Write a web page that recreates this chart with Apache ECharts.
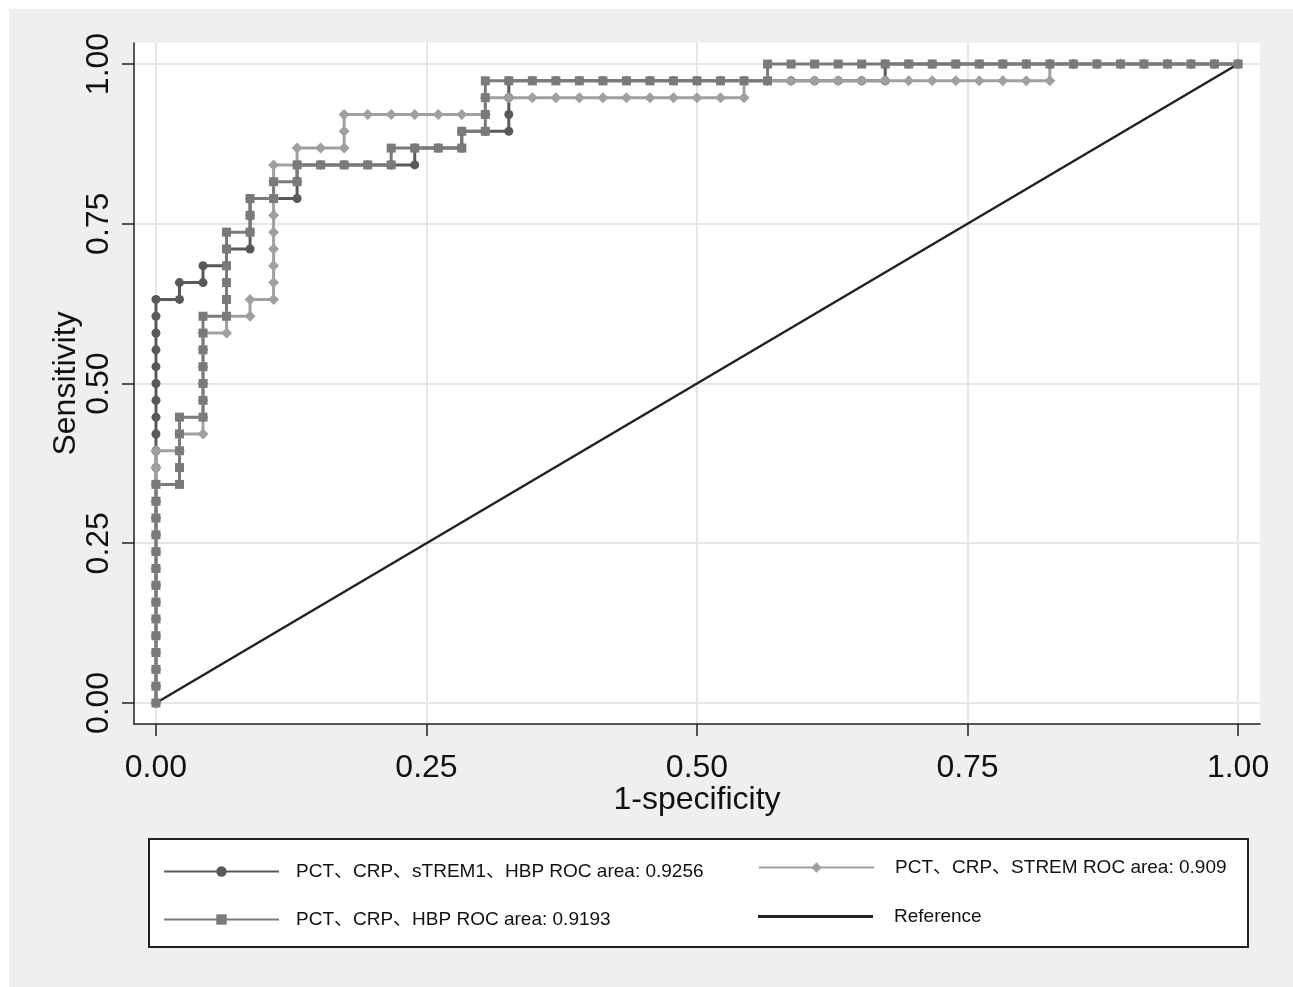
<!DOCTYPE html>
<html>
<head>
<meta charset="utf-8">
<script src="https://cdn.jsdelivr.net/npm/echarts@6/dist/echarts.min.js"></script>
<style>
  html, body { margin: 0; padding: 0; background: #fff; }
  #chart { position: absolute; left: 9px; top: 9px; width: 1284px; height: 978px; }
</style>
</head>
<body>
<div id="chart"></div>
<script>
// counts: 46 negatives (x = fp/46), 38 positives (y = tp/38)
var nNeg = 46, nPos = 38;

var tickValues = [0, 0.25, 0.5, 0.75, 1];

// PCT、CRP、sTREM1、HBP
var fpA = [0,0,0,0,0,0,0,0,0,0,0,0,0,0,0,0,0,0,0,0,0,0,0,0,0,
  1,1,2,2,3,3,4,4,4,4,5,6,6,6,7,8,9,10,11,11,12,13,13,14,15,15,15,15,
  16,17,18,19,20,21,22,23,24,25,26,27,28,29,30,31,31,
  32,33,34,35,36,37,38,39,40,41,42,43,44,45,46];
var tpA = [0,1,2,3,4,5,6,7,8,9,10,11,12,13,14,15,16,17,18,19,20,21,22,23,24,
  24,25,25,26,26,27,27,28,29,30,30,30,31,32,32,32,32,32,32,33,33,33,34,34,34,35,36,37,
  37,37,37,37,37,37,37,37,37,37,37,37,37,37,37,37,38,
  38,38,38,38,38,38,38,38,38,38,38,38,38,38,38];

// PCT、CRP、STREM
var fpC = [0,0,0,0,0,0,0,0,0,0,0,0,0,0,0,0,
  1,1,2,2,2,2,2,2,2,3,3,4,4,5,5,5,5,5,5,5,5,5,6,6,7,8,8,8,9,10,11,12,13,14,14,
  15,16,17,18,19,20,21,22,23,24,25,25,
  26,27,28,29,30,31,32,33,34,35,36,37,38,38,
  39,40,41,42,43,44,45,46];
var tpC = [0,1,2,3,4,5,6,7,8,9,10,11,12,13,14,15,
  15,16,16,17,18,19,20,21,22,22,23,23,24,24,25,26,27,28,29,30,31,32,32,33,33,33,34,35,35,35,35,35,35,35,36,
  36,36,36,36,36,36,36,36,36,36,36,37,
  37,37,37,37,37,37,37,37,37,37,37,37,37,38,
  38,38,38,38,38,38,38,38];

// PCT、CRP、HBP
var fpB = [0,0,0,0,0,0,0,0,0,0,0,0,0,0,
  1,1,1,1,1,2,2,2,2,2,2,2,3,3,3,3,3,3,4,4,4,5,5,6,6,7,8,9,10,10,11,12,13,13,14,14,14,14,
  15,16,17,18,19,20,21,22,23,24,25,26,26,
  27,28,29,30,31,32,33,34,35,36,37,38,39,40,41,42,43,44,45,46];
var tpB = [0,1,2,3,4,5,6,7,8,9,10,11,12,13,
  13,14,15,16,17,17,18,19,20,21,22,23,23,24,25,26,27,28,28,29,30,30,31,31,32,32,32,32,32,33,33,33,33,34,34,35,36,37,
  37,37,37,37,37,37,37,37,37,37,37,37,38,
  38,38,38,38,38,38,38,38,38,38,38,38,38,38,38,38,38,38,38,38];

var refX = [0, 1];
var refY = [0, 1];

var names = [
  'PCT、CRP、sTREM1、HBP ROC area: 0.9256',
  'PCT、CRP、STREM ROC area: 0.909',
  'PCT、CRP、HBP ROC area: 0.9193',
  'Reference'
];

function toPoints(fp, tp) {
  var out = [];
  for (var i = 0; i < fp.length; i++) out.push([fp[i] / nNeg, tp[i] / nPos]);
  return out;
}

var font = "'Liberation Sans', Arial, 'Noto Sans CJK SC', sans-serif";

function rocSeries(name, data, symbol, color, size) {
  return {
    name: name,
    type: 'line',
    data: data,
    symbol: symbol,
    symbolSize: size,
    showAllSymbol: true,
    lineStyle: { color: color, width: 3 },
    itemStyle: { color: color },
    emphasis: { disabled: true }
  };
}

function legendAt(item, left, top, gap, h) {
  return {
    data: [item],
    left: left,
    top: top,
    padding: 0,
    itemWidth: 115,
    itemHeight: h,
    selectedMode: false,
    textStyle: { fontFamily: font, fontSize: 19, color: '#111', padding: [0, 0, 0, gap] }
  };
}

var chart = echarts.init(document.getElementById('chart'));
chart.setOption({
  animation: false,
  backgroundColor: '#efefef',
  textStyle: { fontFamily: font },
  grid: {
    left: 125, top: 34, width: 1126, height: 681,
    show: true, backgroundColor: '#fff', borderWidth: 0
  },
  xAxis: {
    type: 'value',
    min: -0.0203, max: 1.0203,
    name: '1-specificity',
    nameLocation: 'middle',
    nameGap: 60,
    nameMoveOverlap: false,
    nameTextStyle: { fontSize: 32, color: '#111', fontFamily: font },
    axisLine: { onZero: false, lineStyle: { color: '#222', width: 1.5 } },
    axisTick: { customValues: tickValues, length: 12, lineStyle: { color: '#222', width: 1.5 } },
    axisLabel: {
      customValues: tickValues, margin: 28, fontSize: 32, color: '#111', fontFamily: font,
      formatter: function (v) { return v.toFixed(2); }
    },
    splitLine: { show: true, lineStyle: { color: '#e6e6e6', width: 2 } }
  },
  yAxis: {
    type: 'value',
    min: -0.0329, max: 1.0329,
    name: 'Sensitivity',
    nameLocation: 'middle',
    nameGap: 52,
    nameMoveOverlap: false,
    nameTextStyle: { fontSize: 32, color: '#111', fontFamily: font },
    axisLine: { onZero: false, lineStyle: { color: '#222', width: 1.5 } },
    axisTick: { customValues: tickValues, length: 12, lineStyle: { color: '#222', width: 1.5 } },
    axisLabel: {
      customValues: tickValues, margin: 19, rotate: 90, fontSize: 32, color: '#111', fontFamily: font,
      formatter: function (v) { return v.toFixed(2); }
    },
    splitLine: { show: true, lineStyle: { color: '#e6e6e6', width: 2 } }
  },
  legend: [
    legendAt(names[0], 154, 853, 12, 13),
    legendAt(names[1], 749, 849, 16, 13),
    legendAt(names[2], 154, 901, 12, 13),
    legendAt({ name: names[3], icon: 'rect' }, 749, 898, 16, 3)
  ],
  graphic: [{
    type: 'rect',
    left: 139, top: 829,
    shape: { width: 1099, height: 108 },
    style: { fill: '#fff', stroke: '#222', lineWidth: 2 },
    z: -1
  }],
  series: [
    rocSeries(names[0], toPoints(fpA, tpA), 'circle', '#595959', 9),
    rocSeries(names[1], toPoints(fpC, tpC), 'diamond', '#a0a0a0', 11),
    rocSeries(names[2], toPoints(fpB, tpB), 'rect', '#7a7a7a', 9),
    {
      name: names[3],
      type: 'line',
      data: [[refX[0], refY[0]], [refX[1], refY[1]]],
      showSymbol: false,
      symbol: 'none',
      lineStyle: { color: '#222', width: 2.5 },
      itemStyle: { color: '#222' },
      emphasis: { disabled: true }
    }
  ]
});
</script>
</body>
</html>
